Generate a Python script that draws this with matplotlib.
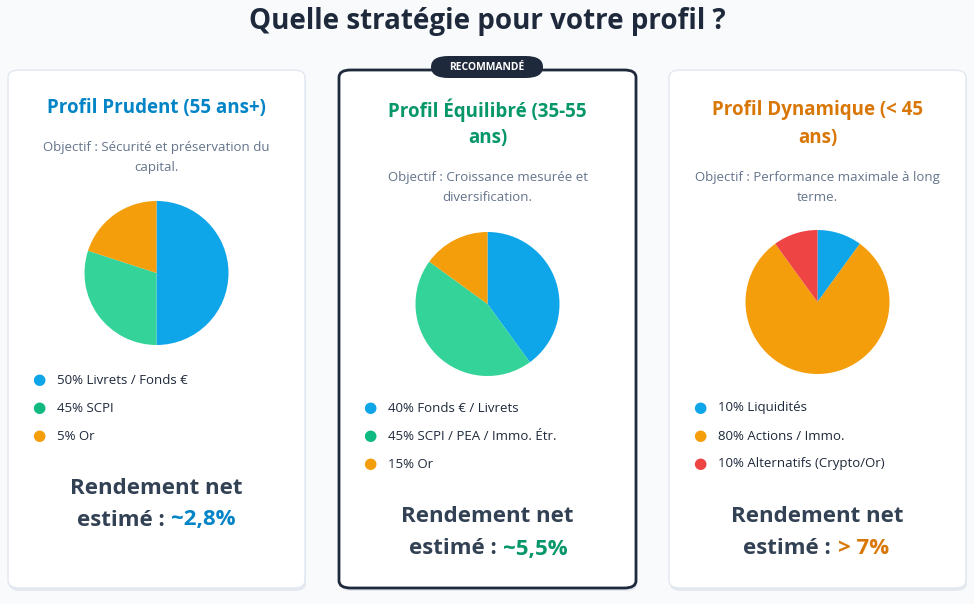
import matplotlib.pyplot as plt
from matplotlib.patches import FancyBboxPatch

plt.rcParams['font.family'] = ['Open Sans', 'DejaVu Sans']

W, H = 974, 604

titles = [["Profil Prudent (55 ans+)"], ["Profil Équilibré (35-55", "ans)"], ["Profil Dynamique (< 45", "ans)"]]
objectifs = [["Objectif : Sécurité et préservation du", "capital."],
             ["Objectif : Croissance mesurée et", "diversification."],
             ["Objectif : Performance maximale à long", "terme."]]
pie_values = [[50, 30, 20], [40, 45, 15], [10, 80, 10]]
pie_colors = [["#0ea5e9", "#34d399", "#f59e0b"],
              ["#0ea5e9", "#34d399", "#f59e0b"],
              ["#0ea5e9", "#f59e0b", "#ef4444"]]
legend_labels = [["50% Livrets / Fonds €", "45% SCPI", "5% Or"],
                 ["40% Fonds € / Livrets", "45% SCPI / PEA / Immo. Étr.", "15% Or"],
                 ["10% Liquidités", "80% Actions / Immo.", "10% Alternatifs (Crypto/Or)"]]
legend_colors = [["#0ea5e9", "#10b981", "#f59e0b"],
                 ["#0ea5e9", "#10b981", "#f59e0b"],
                 ["#0ea5e9", "#f59e0b", "#ef4444"]]
rendements = ["~2,8%", "~5,5%", "> 7%"]
accents = ["#0284c7", "#059669", "#d97706"]

# layout (pixels)
card_x = [8, 339, 669]
card_w = 297
card_top, card_bot = 70, 588
title_y = [[108], [110, 138], [110, 138]]
obj_y = [[148, 168], [177, 197], [177, 197]]
pie_cy = [273, 304, 302]
pie_r = 72
leg_y = [[380, 408, 436], [409, 437, 465], [408, 436, 464]]
rend_y = [[488, 520], [517, 549], [516, 548]]
split_off = [8, 9, 13]

fig = plt.figure(figsize=(W / 100, H / 100), dpi=100)
fig.patch.set_facecolor("#f8fafc")

def fx(x):
    return x / W

def fy(y):
    return 1 - y / H

fig.text(0.5, fy(22), "Quelle stratégie pour votre profil ?", ha="center", va="center",
         fontsize=20, fontweight="bold", color="#1e293b")

for i in range(3):
    x0 = card_x[i]
    cx = x0 + card_w / 2
    # shadow + card
    fig.patches.append(FancyBboxPatch((fx(x0 + 1), fy(card_bot + 3)), fx(card_w), (card_bot - card_top) / H,
                                      boxstyle="round,pad=0,rounding_size=0.012", transform=fig.transFigure,
                                      facecolor="#e5e9ef", edgecolor="none", zorder=1))
    fig.patches.append(FancyBboxPatch((fx(x0), fy(card_bot)), fx(card_w), (card_bot - card_top) / H,
                                      boxstyle="round,pad=0,rounding_size=0.012", transform=fig.transFigure,
                                      facecolor="white",
                                      edgecolor="#1e293b" if i == 1 else "#e2e8f0",
                                      linewidth=2 if i == 1 else 1, zorder=2))
    for t, y in zip(titles[i], title_y[i]):
        fig.text(fx(cx), fy(y), t, ha="center", va="center", fontsize=13.5,
                 fontweight="bold", color=accents[i], zorder=5)
    for t, y in zip(objectifs[i], obj_y[i]):
        fig.text(fx(cx), fy(y), t, ha="center", va="center", fontsize=9.5,
                 color="#64748b", zorder=5)
    ax = fig.add_axes([fx(cx - pie_r), fy(pie_cy[i] + pie_r), fx(2 * pie_r), 2 * pie_r / H])
    ax.pie(pie_values[i], colors=pie_colors[i], startangle=90, counterclock=False,
           radius=1, wedgeprops=dict(linewidth=0))
    ax.set_xlim(-1, 1)
    ax.set_ylim(-1, 1)
    ax.set_aspect("equal")
    ax.set_zorder(5)
    for lab, col, y in zip(legend_labels[i], legend_colors[i], leg_y[i]):
        fig.text(fx(x0 + 31), fy(y), "●", ha="center", va="center", fontsize=11,
                 color=col, zorder=5)
        fig.text(fx(x0 + 49), fy(y), lab, ha="left", va="center", fontsize=9.5,
                 color="#1e293b", zorder=5)
    fig.text(fx(cx), fy(rend_y[i][0]), "Rendement net", ha="center", va="center",
             fontsize=16, fontweight="bold", color="#334155", zorder=5)
    fig.text(fx(cx + split_off[i]), fy(rend_y[i][1]), "estimé :", ha="right", va="center",
             fontsize=16, fontweight="bold", color="#334155", zorder=5)
    fig.text(fx(cx + split_off[i] + 7), fy(rend_y[i][1]), rendements[i], ha="left", va="center",
             fontsize=16, fontweight="bold", color=accents[i], zorder=5)

# badge
bw, bh = 112, 22
fig.patches.append(FancyBboxPatch((fx(487 - bw / 2), fy(67 + bh / 2)), fx(bw), bh / H,
                                  boxstyle="round,pad=0,rounding_size=0.018", transform=fig.transFigure,
                                  facecolor="#1e293b", edgecolor="none", zorder=6))
fig.text(fx(487), fy(67), "RECOMMANDÉ", ha="center", va="center", fontsize=7.5,
         fontweight="bold", color="white", zorder=7)

fig.savefig("out.png", dpi=100, facecolor=fig.get_facecolor())
